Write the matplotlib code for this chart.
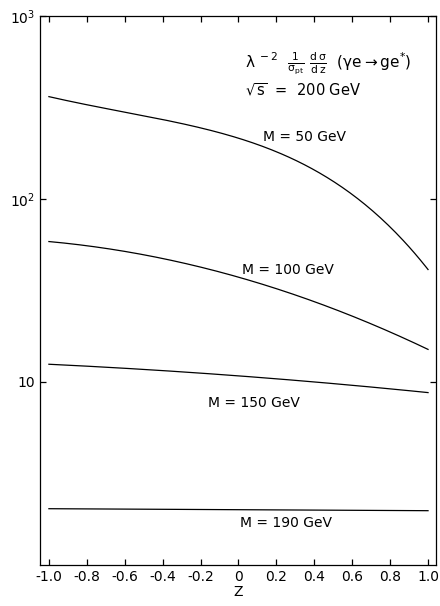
import matplotlib
matplotlib.use("Agg")
import matplotlib.pyplot as plt
import numpy as np

plt.rcParams['mathtext.default'] = 'regular'

z50 = [-1.0, -0.7, -0.29, 0.1, 0.36, 0.57, 0.71, 0.85, 1.0]
m50 = [362, 313, 259, 193, 153, 117, 84, 60, 42]

z100 = [-1.0, -0.7, -0.29, 0.0, 0.32, 0.68, 1.0]
m100 = [58, 54.8, 44.6, 36.4, 29.9, 21.3, 15]

z150 = [-1.0, 0.0, 1.0]
m150 = [12.5, 10.8, 8.75]

z190 = [-1.0, 1.0]
m190 = [2.03, 1.98]

xticks = [-1.0, -0.8, -0.6, -0.4, -0.2, 0, 0.2, 0.4, 0.6, 0.8, 1.0]
xlabels = ['-1.0', '-0.8', '-0.6', '-0.4', '-0.2', '0', '0.2', '0.4', '0.6', '0.8', '1.0']
yticks = [10, 100, 1000]
ylabels = ['10', '$10^2$', '$10^3$']

fig = plt.figure(figsize=(4.4, 6.06), dpi=100)
ax = fig.add_axes([0.0909, 0.0677, 0.9, 0.9059])

# smooth through the read points (log space)
for zz, vv, k in [(z50, m50, 4), (z100, m100, 3), (z150, m150, 2), (z190, m190, 1)]:
    xs = np.linspace(-1, 1, 200)
    coef = np.polyfit(zz, np.log10(vv), k)
    ax.plot(xs, 10 ** np.polyval(coef, xs), color='black', lw=0.9)

ax.set_yscale('log')
ax.set_xlim(-1.047, 1.042)
ax.set_ylim(1, 1000)
ax.set_xticks(xticks)
ax.set_xticklabels(xlabels, fontsize=10)
ax.set_yticks(yticks)
ax.set_yticklabels(ylabels, fontsize=10)
ax.yaxis.set_minor_locator(matplotlib.ticker.NullLocator())
ax.tick_params(direction='in', top=True, right=True, length=4, width=0.9)
ax.set_xlabel('Z', fontsize=10, labelpad=1)
for s in ax.spines.values():
    s.set_linewidth(0.9)

ax.text(0.129, 218, 'M = 50 GeV', fontsize=10, va='center')
ax.text(0.018, 40.9, 'M = 100 GeV', fontsize=10, va='center')
ax.text(-0.161, 7.68, 'M = 150 GeV', fontsize=10, va='center')
ax.text(0.008, 1.70, 'M = 190 GeV', fontsize=10, va='center')
ax.text(0.034, 553,
        r'$\lambda^{\ -2}\ \ \frac{1}{\sigma_{pt}}\ \frac{d\,\sigma}{d\,z}\ \ (\gamma e \rightarrow g e^{*})$',
        fontsize=11, va='center')
ax.text(0.034, 394, r'$\sqrt{s}$  =  200 GeV', fontsize=10.5, va='center')

fig.savefig('out.png', dpi=100)
